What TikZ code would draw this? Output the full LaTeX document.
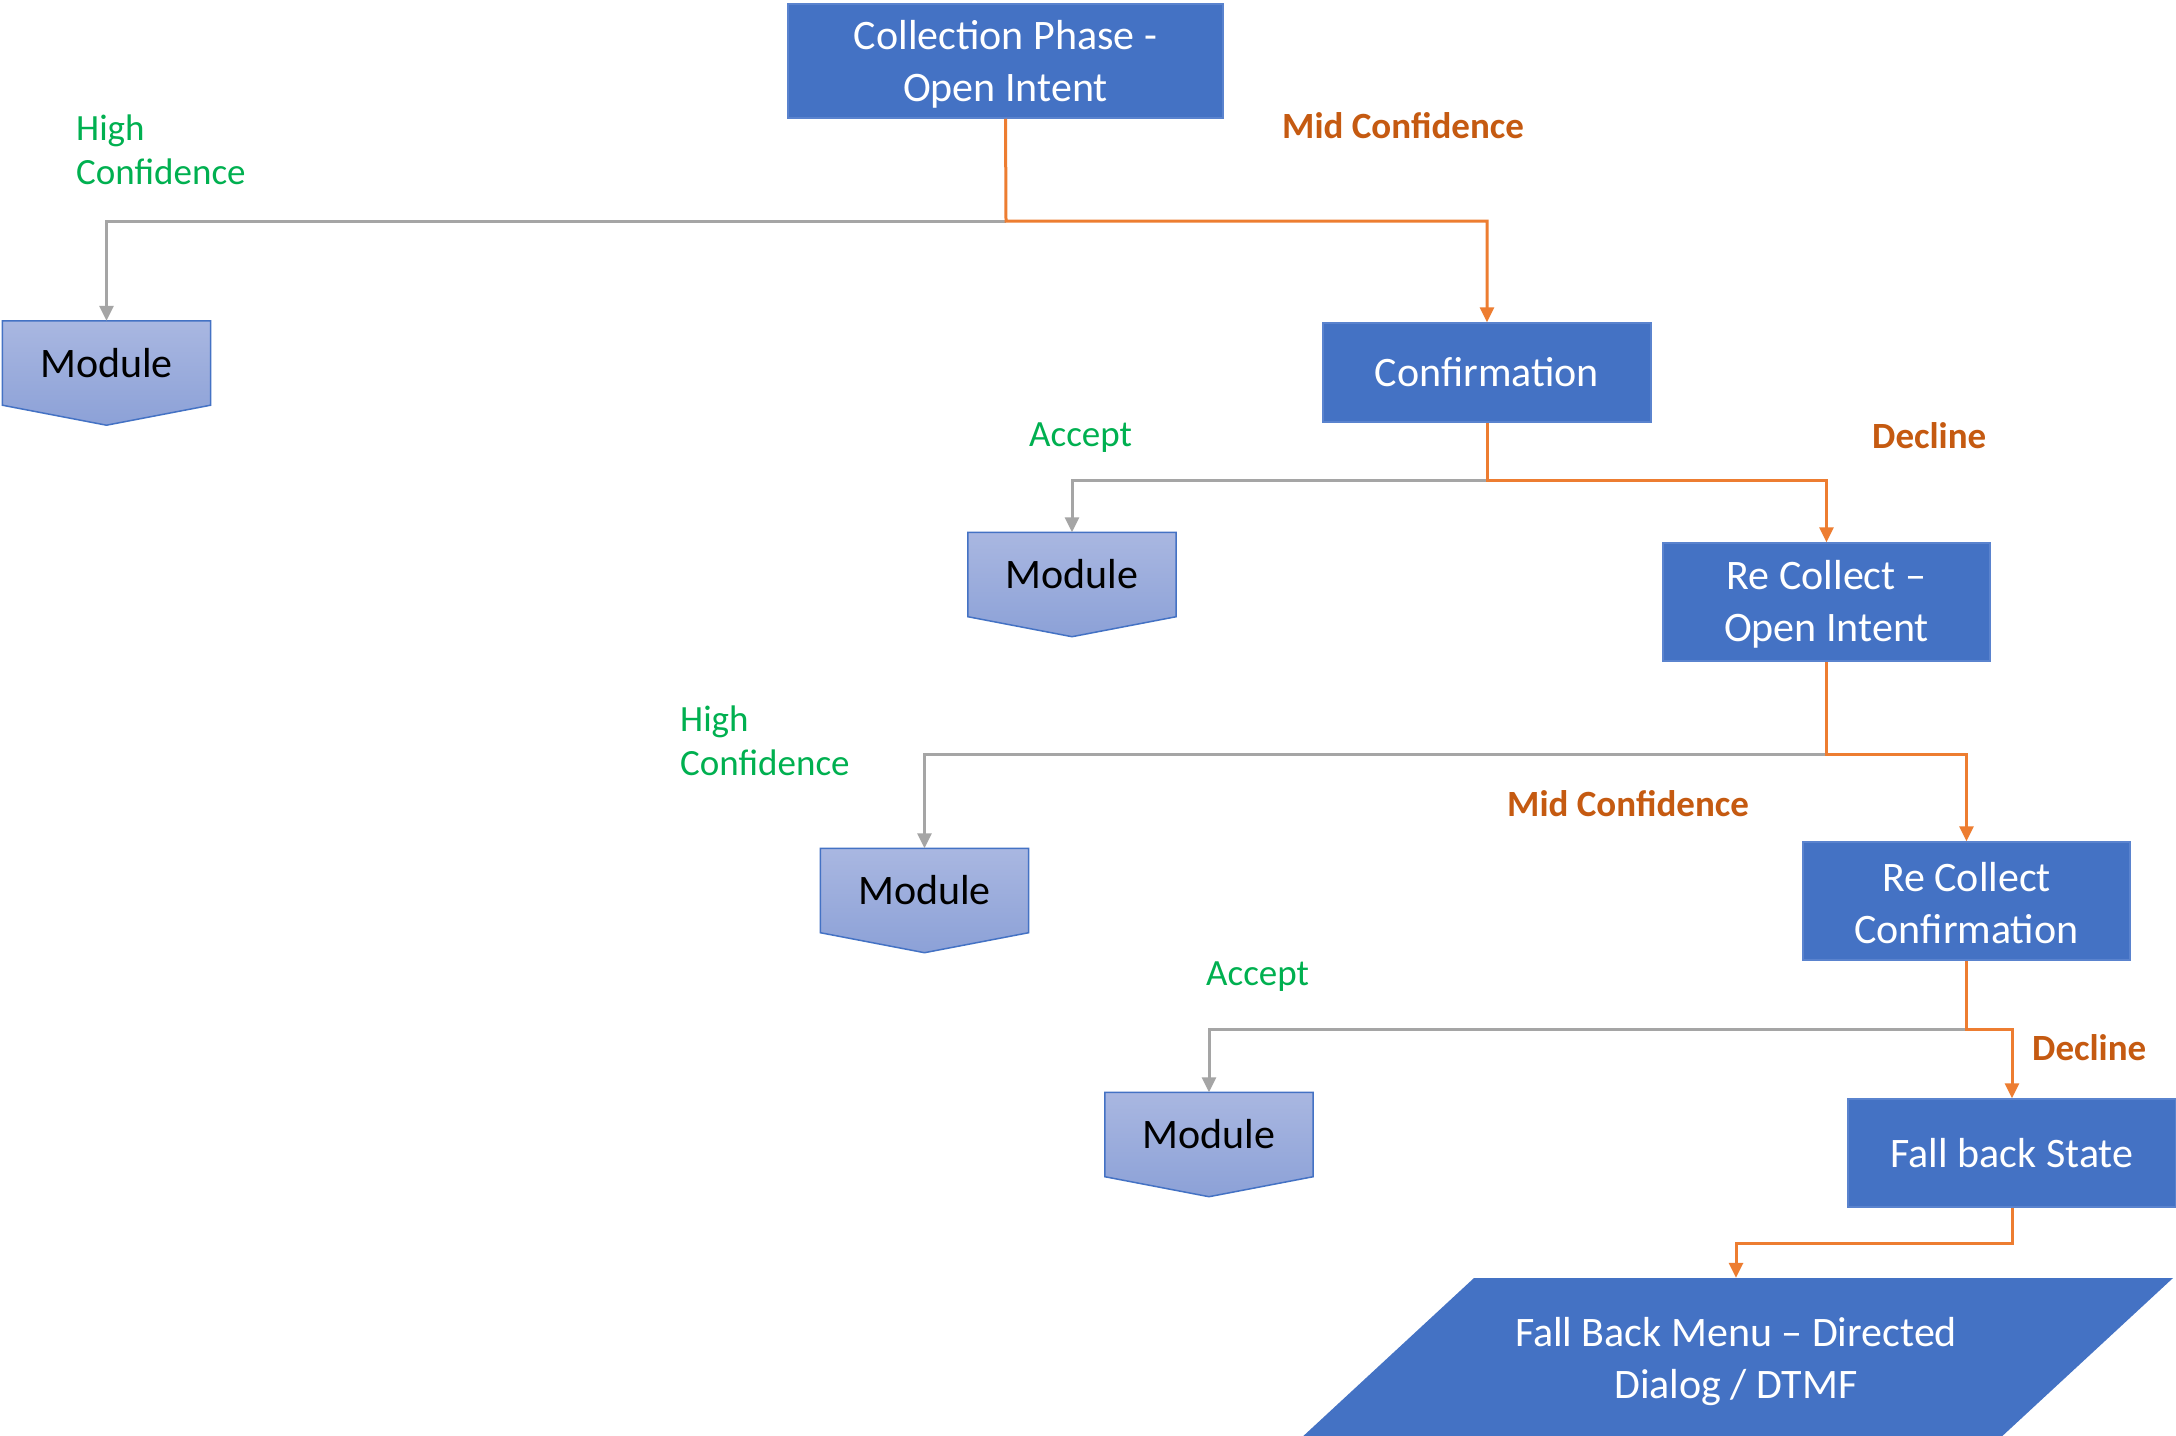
\documentclass[tikz,border=0pt]{standalone}
\usepackage{fontspec}
\setmainfont{Carlito}
\usetikzlibrary{arrows.meta,calc,backgrounds}
\definecolor{boxblue}{HTML}{4472C4}
\definecolor{boxedge}{HTML}{5A83CE}
\definecolor{modtop}{HTML}{A9B7E1}
\definecolor{modbot}{HTML}{8CA1D7}
\definecolor{linegray}{HTML}{A5A5A5}
\definecolor{lineor}{HTML}{ED7D31}
\definecolor{labgreen}{HTML}{00B050}
\definecolor{labor}{HTML}{C55A11}
\begin{document}
\begin{tikzpicture}[x=1pt,y=-1pt,
  box/.style={fill=boxblue,draw=boxedge,line width=1.5pt,text=white,
    font=\fontsize{42}{52}\selectfont,align=center,inner sep=0pt},
  modnode/.style={minimum width=208pt,minimum height=84pt,inner sep=0pt,
    font=\fontsize{42}{52}\selectfont},
  lbl/.style={anchor=west,align=left,inner sep=0pt},
  hi/.style={lbl,text=labgreen,font=\fontsize{37}{44}\selectfont},
  mid/.style={lbl,text=labor,font=\fontsize{37}{44}\selectfont\bfseries},
  link/.style={line width=3pt,-{Triangle[width=14pt,length=15pt]}},
  glink/.style={link,draw=linegray},
  olink/.style={link,draw=lineor}]

\useasboundingbox (0,0) rectangle (2176,1435);
\clip (0,0) rectangle (2176,1435);

% process boxes
\node[box,minimum width=435pt,minimum height=114pt] (c1) at (1005.5,61) {\rule{0pt}{36pt}Collection Phase -\\Open Intent};
\node[box,minimum width=328pt,minimum height=99pt] (conf) at (1487,372.5) {Confirmation};
\node[box,minimum width=327pt,minimum height=118pt] (rc1) at (1826.5,602) {\rule{0pt}{34pt}Re Collect –\\Open Intent};
\node[box,minimum width=327pt,minimum height=118pt] (rc2) at (1966.5,901) {\rule{0pt}{34pt}Re Collect\\Confirmation};
\node[box,minimum width=328pt,minimum height=108pt] (fb) at (2012,1153) {Fall back State};
\node[text=white,font=\fontsize{42}{52}\selectfont,align=center,inner sep=0pt,
  minimum height=162pt] (fbm) at (1736,1359) {\rule{0pt}{34pt}Fall Back Menu – Directed\\Dialog / DTMF};

% module blocks
\node[modnode] (m1) at (106.5,363) {Module};
\node[modnode] (m2) at (1072,574.5) {Module};
\node[modnode] (m3) at (924.5,890.5) {Module};
\node[modnode] (m4) at (1209,1134.5) {Module};

\begin{scope}[on background layer]
  \fill[white] (0,0) rectangle (2176,1435);
  \foreach \m in {m1,m2,m3,m4}{
    \shade[top color=modtop,bottom color=modbot,draw=boxblue,line width=1.5pt]
      (\m.north west) -- (\m.north east) -- (\m.south east)
      -- ($(\m.south)+(0,20)$) -- (\m.south west) -- cycle;
  }
  \fill[boxblue] ($(fbm.center)+(-262,-81)$) -- ($(fbm.center)+(437,-81)$)
    -- ($(fbm.center)+(262,81)$) -- ($(fbm.center)+(-437,81)$) -- cycle;
\end{scope}

% branch labels
\node[hi] (l1) at (76,150) {High\\Confidence};
\node[mid] (l2) at (1282,126) {Mid Confidence};
\node[hi] (l3) at (1029,438) {Accept};
\node[mid] (l4) at (1872,436) {Decline};
\node[hi] (l5) at (680,741) {High\\Confidence};
\node[mid] (l6) at (1507,804) {Mid Confidence};
\node[hi] (l7) at (1206,977) {Accept};
\node[mid] (l8) at (2032,1048) {Decline};

% branch points
\coordinate (j1) at (1006,221);
\coordinate (j2) at (1487,480);
\coordinate (j3) at (1826.5,754);
\coordinate (j4) at (1966.5,1029);
\coordinate (j5) at (2012,1243);

% connectors
\draw[glink] (j1) -| (m1.north);
\draw[olink] (c1.south) -- (j1) -| (conf.north);
\draw[glink] (j2) -| (m2.north);
\draw[olink] (conf.south) -- (j2) -| (rc1.north);
\draw[glink] (j3) -| (m3.north);
\draw[olink] (rc1.south) -- (j3) -| (rc2.north);
\draw[glink] (j4) -| (m4.north);
\draw[olink] (rc2.south) -- (j4) -| (fb.north);
\draw[olink] (fb.south) -- (j5) -| (fbm.north);
\end{tikzpicture}
\end{document}
